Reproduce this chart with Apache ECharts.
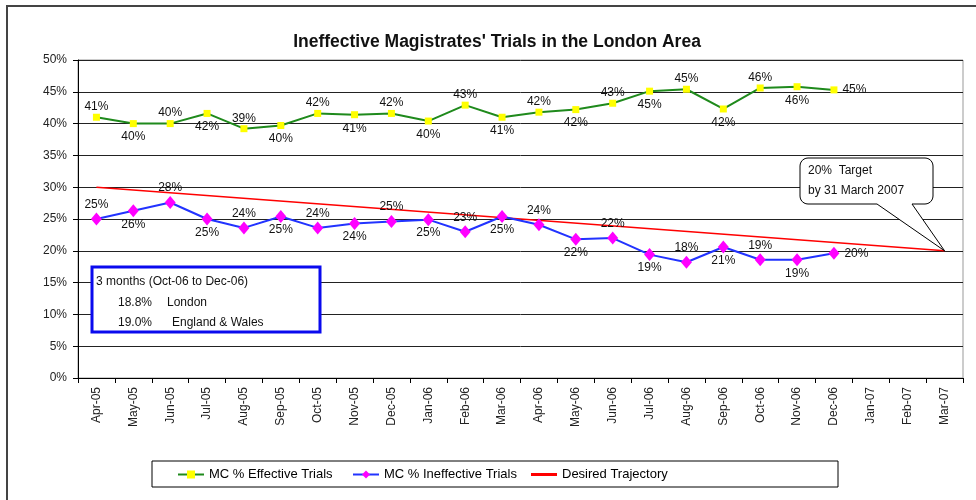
<!DOCTYPE html>
<html>
<head>
<meta charset="utf-8">
<script src="https://cdn.jsdelivr.net/npm/echarts@6/dist/echarts.min.js"></script>
<style>
html,body{margin:0;padding:0;background:#fff;}
#chart{width:976px;height:500px;}
</style>
</head>
<body>
<div id="chart"></div>
<script>
const categories = ['Apr-05','May-05','Jun-05','Jul-05','Aug-05','Sep-05','Oct-05','Nov-05','Dec-05','Jan-06','Feb-06','Mar-06','Apr-06','May-06','Jun-06','Jul-06','Aug-06','Sep-06','Oct-06','Nov-06','Dec-06','Jan-07','Feb-07','Mar-07'];
const effectiveTrials = [41.0,40.0,40.0,41.6,39.2,39.7,41.6,41.4,41.6,40.4,42.9,41.0,41.8,42.2,43.2,45.1,45.4,42.3,45.6,45.8,45.3,null,null,null];
const ineffectiveTrials = [25.0,26.3,27.6,25.0,23.6,25.4,23.6,24.3,24.6,24.9,23.0,25.4,24.1,21.8,22.0,19.4,18.2,20.6,18.6,18.6,19.6,null,null,null];
const desiredTrajectory = [30,null,null,null,null,null,null,null,null,null,null,null,null,null,null,null,null,null,null,null,null,null,null,20];
const seriesNames = ['MC % Effective Trials','MC % Ineffective Trials','Desired Trajectory'];
const titleText = "Ineffective Magistrates' Trials in the London Area";
const insetLines = ['3 months (Oct-06 to Dec-06)', ['18.8%','London'], ['19.0%','England & Wales']];
const calloutLines = ['20%  Target', 'by 31 March 2007'];

const FONT = "'Liberation Sans',Arial,sans-serif";

function labelled(arr, dTop, dBot) {
  const lastIdx = arr.reduce((a, v, i) => v === null ? a : i, 0);
  return arr.map((v, i) => {
    if (v === null) return '-';
    const pos = i === lastIdx ? 'right' : (i % 2 ? 'bottom' : 'top');
    return { value: v, label: { position: pos, distance: pos === 'right' ? 5 : (pos === 'top' ? dTop : dBot) } };
  });
}

const chart = echarts.init(document.getElementById('chart'), null, { renderer: 'canvas' });
const labelStyle = {
  show: true,
  formatter: p => Math.round(p.value) + '%',
  fontFamily: FONT, fontSize: 12, color: '#111'
};
const legendText = { fontFamily: FONT, fontSize: 13, color: '#000' };

const option = {
  animation: false,
  backgroundColor: '#fff',
  grid: { left: 78, top: 60, right: 13, bottom: 122, show: true, borderColor: '#999', borderWidth: 1 },
  xAxis: {
    type: 'category', data: categories, boundaryGap: true,
    axisLine: { lineStyle: { color: '#000', width: 1 } },
    axisTick: { show: true, alignWithLabel: false, length: 5, lineStyle: { color: '#000' } },
    axisLabel: { rotate: 90, margin: 9, fontFamily: FONT, fontSize: 12, color: '#222', interval: 0 },
    splitLine: { show: false }
  },
  yAxis: {
    type: 'value', min: 0, max: 50, interval: 5,
    axisLine: { show: true, lineStyle: { color: '#000', width: 1 } },
    axisTick: { show: true, length: 5, lineStyle: { color: '#000' } },
    axisLabel: { formatter: '{value}%', margin: 11, fontFamily: FONT, fontSize: 12, color: '#222' },
    splitLine: { show: true, lineStyle: { color: '#222', width: 1 } }
  },
  legend: [
    { data: [seriesNames[0]], left: 177, top: 468, padding: 0, itemWidth: 26, itemHeight: 10, textStyle: legendText },
    { data: [seriesNames[1]], left: 352, top: 468, padding: 0, itemWidth: 26, itemHeight: 10, textStyle: legendText },
    { data: [{ name: seriesNames[2], icon: 'rect' }], left: 531, top: 468, padding: 0, itemWidth: 26, itemHeight: 3, textStyle: legendText }
  ],
  series: [
    {
      name: seriesNames[0], type: 'line', data: labelled(effectiveTrials, 1, 4),
      symbol: 'rect', symbolSize: 7,
      itemStyle: { color: '#ffff00', borderWidth: 0 },
      lineStyle: { color: '#1f8a1c', width: 2 },
      label: labelStyle, z: 3
    },
    {
      name: seriesNames[1], type: 'line', data: labelled(ineffectiveTrials, 2, 1),
      symbol: 'diamond', symbolSize: [11, 13],
      itemStyle: { color: '#ff00ff', borderWidth: 0 },
      lineStyle: { color: '#2233ff', width: 2 },
      label: labelStyle, z: 3
    },
    {
      name: seriesNames[2], type: 'line', data: desiredTrajectory, connectNulls: true,
      symbol: 'none', showSymbol: false,
      itemStyle: { color: '#ff0000' },
      lineStyle: { color: '#ff0000', width: 1.5 }, z: 2
    }
  ]
};
chart.setOption(option);

const tip = chart.convertToPixel({ xAxisIndex: 0, yAxisIndex: 0 }, [categories.length - 1, desiredTrajectory[desiredTrajectory.length - 1]]);

function arcPts(cx, cy, r, a0, a1) {
  const pts = [];
  for (let k = 0; k <= 6; k++) {
    const a = a0 + (a1 - a0) * k / 6;
    pts.push([cx + r * Math.cos(a), cy + r * Math.sin(a)]);
  }
  return pts;
}
const bx0 = 800, by0 = 158, bx1 = 933, by1 = 204, rr = 8, PI = Math.PI;
const calloutPts = [].concat(
  arcPts(bx0 + rr, by0 + rr, rr, PI, 1.5 * PI),
  arcPts(bx1 - rr, by0 + rr, rr, 1.5 * PI, 2 * PI),
  arcPts(bx1 - rr, by1 - rr, rr, 0, 0.5 * PI),
  [[912, by1], [tip[0], tip[1]], [877, by1]],
  arcPts(bx0 + rr, by1 - rr, rr, 0.5 * PI, PI)
);

chart.setOption({
  graphic: [
    { type: 'rect', shape: { x: 7, y: 6, width: 1000, height: 520 }, style: { fill: 'none', stroke: '#444', lineWidth: 2 }, silent: true, z: 0 },
    { type: 'text', style: { text: titleText, x: 497, y: 42, textAlign: 'center', textVerticalAlign: 'middle', font: "bold 17.5px " + FONT, fill: '#111' }, z: 10 },
    { type: 'rect', shape: { x: 92, y: 267, width: 228, height: 65 }, style: { fill: '#fff', stroke: '#0a0aee', lineWidth: 3 }, z: 10 },
    { type: 'text', style: { text: insetLines[0], x: 96, y: 282, textVerticalAlign: 'middle', font: "12px " + FONT, fill: '#111' }, z: 11 },
    { type: 'text', style: { text: insetLines[1][0], x: 118, y: 303, textVerticalAlign: 'middle', font: "12px " + FONT, fill: '#111' }, z: 11 },
    { type: 'text', style: { text: insetLines[1][1], x: 167, y: 303, textVerticalAlign: 'middle', font: "12px " + FONT, fill: '#111' }, z: 11 },
    { type: 'text', style: { text: insetLines[2][0], x: 118, y: 323, textVerticalAlign: 'middle', font: "12px " + FONT, fill: '#111' }, z: 11 },
    { type: 'text', style: { text: insetLines[2][1], x: 172, y: 323, textVerticalAlign: 'middle', font: "12px " + FONT, fill: '#111' }, z: 11 },
    { type: 'polygon', shape: { points: calloutPts }, style: { fill: '#fff', stroke: '#000', lineWidth: 1 }, z: 10 },
    { type: 'text', style: { text: calloutLines[0], x: 808, y: 171, textVerticalAlign: 'middle', font: "12px " + FONT, fill: '#111' }, z: 11 },
    { type: 'text', style: { text: calloutLines[1], x: 808, y: 191, textVerticalAlign: 'middle', font: "12px " + FONT, fill: '#111' }, z: 11 },
    { type: 'rect', shape: { x: 152, y: 461, width: 686, height: 26 }, style: { fill: 'none', stroke: '#000', lineWidth: 1 }, z: 10 }
  ]
});
</script>
</body>
</html>
